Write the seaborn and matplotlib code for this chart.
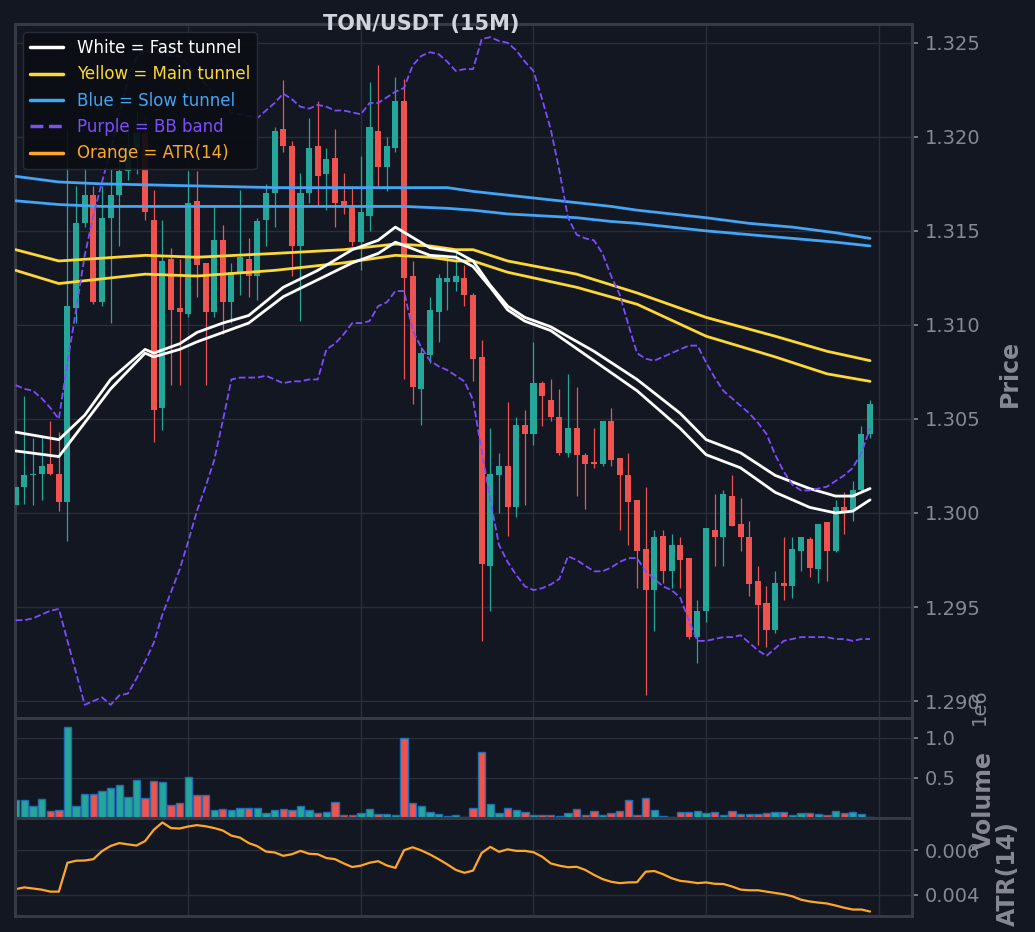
import numpy as np
import seaborn as sns
import matplotlib.pyplot as plt
from matplotlib.lines import Line2D
from matplotlib.ticker import FormatStrFormatter, FuncFormatter

# TON/USDT 15m candles
open_ = [1.3004, 1.3014, 1.3020, 1.3021, 1.3026, 1.3021, 1.3006, 1.3109, 1.3154, 1.3169,
         1.3112, 1.3157, 1.3169, 1.3182, 1.3193, 1.3202, 1.3156, 1.3056, 1.3135, 1.3109,
         1.3106, 1.3166, 1.3133, 1.3107, 1.3145, 1.3112, 1.3128, 1.3135, 1.3126, 1.3156,
         1.3170, 1.3204, 1.3195, 1.3142, 1.3170, 1.3195, 1.3180, 1.3189, 1.3166, 1.3164,
         1.3144, 1.3158, 1.3203, 1.3184, 1.3194, 1.3219, 1.3126, 1.3066, 1.3084, 1.3107,
         1.3123, 1.3123, 1.3125, 1.3116, 1.3083, 1.2972, 1.3020, 1.3025, 1.3003, 1.3047,
         1.3042, 1.3069, 1.3060, 1.3051, 1.3032, 1.3045, 1.3031, 1.3027, 1.3026, 1.3049,
         1.3029, 1.3020, 1.3007, 1.2981, 1.2959, 1.2988, 1.2969, 1.2983, 1.2976, 1.2934,
         1.2948, 1.2991, 1.2987, 1.3009, 1.2994, 1.2987, 1.2964, 1.2952, 1.2938, 1.2963,
         1.2961, 1.2980, 1.2986, 1.2970, 1.2995, 1.2980, 1.3003, 1.3001, 1.3012, 1.3042]
high = [1.3015, 1.3062, 1.3040, 1.3041, 1.3049, 1.3043, 1.3204, 1.3174, 1.3183, 1.3174,
        1.3174, 1.3183, 1.3193, 1.3206, 1.3214, 1.3210, 1.3172, 1.3156, 1.3141, 1.3135,
        1.3182, 1.3182, 1.3133, 1.3164, 1.3153, 1.3133, 1.3172, 1.3146, 1.3157, 1.3175,
        1.3205, 1.3230, 1.3198, 1.3181, 1.3210, 1.3219, 1.3194, 1.3204, 1.3181, 1.3174,
        1.3190, 1.3229, 1.3238, 1.3200, 1.3232, 1.3231, 1.3134, 1.3088, 1.3115, 1.3127,
        1.3136, 1.3139, 1.3132, 1.3117, 1.3092, 1.3045, 1.3032, 1.3059, 1.3051, 1.3055,
        1.3091, 1.3070, 1.3071, 1.3066, 1.3074, 1.3067, 1.3032, 1.3045, 1.3049, 1.3056,
        1.3029, 1.3032, 1.3007, 1.3014, 1.2991, 1.2991, 1.2989, 1.2987, 1.2976, 1.2954,
        1.2992, 1.3010, 1.3012, 1.3020, 1.3008, 1.2996, 1.2972, 1.2961, 1.2969, 1.2987,
        1.2987, 1.2987, 1.2987, 1.2994, 1.2995, 1.3007, 1.3011, 1.3017, 1.3046, 1.3060]
low = [1.3003, 1.3005, 1.3004, 1.3007, 1.3020, 1.3001, 1.2985, 1.3101, 1.3152, 1.3111,
       1.3110, 1.3101, 1.3142, 1.3177, 1.3180, 1.3156, 1.3038, 1.3044, 1.3068, 1.3068,
       1.3104, 1.3115, 1.3068, 1.3104, 1.3095, 1.3101, 1.3116, 1.3115, 1.3113, 1.3142,
       1.3152, 1.3192, 1.3126, 1.3102, 1.3165, 1.3163, 1.3161, 1.3152, 1.3159, 1.3142,
       1.3129, 1.3150, 1.3174, 1.3171, 1.3192, 1.3071, 1.3058, 1.3047, 1.3080, 1.3091,
       1.3108, 1.3118, 1.3110, 1.3070, 1.2932, 1.2948, 1.3000, 1.2988, 1.2998, 1.3004,
       1.3036, 1.3046, 1.3049, 1.3031, 1.3030, 1.3009, 1.3002, 1.3024, 1.3025, 1.3025,
       1.2991, 1.2983, 1.2960, 1.2903, 1.2937, 1.2963, 1.2960, 1.2960, 1.2933, 1.2920,
       1.2942, 1.2972, 1.2972, 1.2993, 1.2980, 1.2956, 1.2930, 1.2929, 1.2936, 1.2954,
       1.2955, 1.2969, 1.2966, 1.2963, 1.2964, 1.2979, 1.2989, 1.2996, 1.3011, 1.3040]
close = [1.3014, 1.3020, 1.3021, 1.3025, 1.3021, 1.3006, 1.3110, 1.3154, 1.3169, 1.3112,
         1.3157, 1.3169, 1.3182, 1.3193, 1.3202, 1.3160, 1.3055, 1.3134, 1.3108, 1.3107,
         1.3165, 1.3132, 1.3107, 1.3145, 1.3112, 1.3128, 1.3136, 1.3126, 1.3155, 1.3170,
         1.3203, 1.3195, 1.3142, 1.3170, 1.3194, 1.3179, 1.3188, 1.3165, 1.3164, 1.3144,
         1.3160, 1.3205, 1.3184, 1.3195, 1.3219, 1.3125, 1.3067, 1.3085, 1.3108, 1.3125,
         1.3125, 1.3126, 1.3116, 1.3082, 1.2973, 1.3021, 1.3025, 1.3003, 1.3047, 1.3042,
         1.3069, 1.3062, 1.3051, 1.3032, 1.3045, 1.3031, 1.3026, 1.3026, 1.3049, 1.3028,
         1.3020, 1.3006, 1.2980, 1.2959, 1.2987, 1.2969, 1.2983, 1.2975, 1.2934, 1.2948,
         1.2992, 1.2987, 1.3010, 1.2993, 1.2987, 1.2962, 1.2951, 1.2938, 1.2963, 1.2961,
         1.2981, 1.2987, 1.2971, 1.2994, 1.2980, 1.3003, 1.3001, 1.3012, 1.3042, 1.3058]
volume = [220000, 220000, 145000, 243000, 85000, 102000, 1136000, 145000, 306000, 302000,
          336000, 370000, 409000, 260000, 477000, 255000, 460000, 447000, 166000, 191000,
          511000, 289000, 289000, 106000, 115000, 102000, 128000, 128000, 128000, 64000,
          106000, 115000, 102000, 145000, 106000, 60000, 81000, 204000, 34000, 34000,
          64000, 115000, 47000, 47000, 38000, 1004000, 187000, 153000, 77000, 51000,
          26000, 38000, 13000, 128000, 830000, 179000, 64000, 128000, 94000, 72000,
          42000, 42000, 42000, 25000, 63000, 114000, 34000, 84000, 42000, 59000,
          84000, 219000, 42000, 253000, 101000, 30000, 17000, 72000, 72000, 89000,
          59000, 72000, 34000, 84000, 51000, 51000, 46000, 59000, 76000, 76000,
          42000, 59000, 59000, 51000, 34000, 89000, 63000, 76000, 51000, 13000]
atr14 = [0.00426, 0.00434, 0.00429, 0.00424, 0.00415, 0.00415, 0.00544, 0.00553, 0.00554, 0.00560,
         0.00596, 0.00619, 0.00632, 0.00626, 0.00621, 0.00641, 0.00691, 0.00724, 0.00699, 0.00697,
         0.00706, 0.00712, 0.00707, 0.00699, 0.00688, 0.00665, 0.00656, 0.00632, 0.00618, 0.00594,
         0.00590, 0.00575, 0.00582, 0.00597, 0.00584, 0.00582, 0.00565, 0.00560, 0.00541, 0.00525,
         0.00531, 0.00544, 0.00551, 0.00532, 0.00521, 0.00600, 0.00613, 0.00599, 0.00581, 0.00560,
         0.00537, 0.00512, 0.00499, 0.00509, 0.00588, 0.00615, 0.00593, 0.00604, 0.00597, 0.00597,
         0.00591, 0.00571, 0.00541, 0.00531, 0.00524, 0.00526, 0.00512, 0.00490, 0.00471, 0.00459,
         0.00453, 0.00456, 0.00457, 0.00504, 0.00507, 0.00493, 0.00475, 0.00463, 0.00459, 0.00453,
         0.00456, 0.00450, 0.00449, 0.00438, 0.00424, 0.00421, 0.00421, 0.00415, 0.00409, 0.00403,
         0.00394, 0.00379, 0.00371, 0.00366, 0.00362, 0.00353, 0.00343, 0.00335, 0.00335, 0.00326]
bb_upper = [1.3068, 1.3066, 1.3065, 1.3061, 1.3056, 1.3050, 1.3080, 1.3108, 1.3137, 1.3158,
            1.3176, 1.3193, 1.3212, 1.3230, 1.3242, 1.3246, 1.3245, 1.3244, 1.3243, 1.3243,
            1.3238, 1.3233, 1.3228, 1.3222, 1.3217, 1.3213, 1.3212, 1.3211, 1.3210, 1.3214,
            1.3218, 1.3223, 1.3220, 1.3216, 1.3215, 1.3217, 1.3216, 1.3214, 1.3214, 1.3213,
            1.3212, 1.3218, 1.3218, 1.3221, 1.3224, 1.3226, 1.3238, 1.3243, 1.3245, 1.3244,
            1.3240, 1.3235, 1.3236, 1.3236, 1.3252, 1.3253, 1.3251, 1.3250, 1.3246, 1.3240,
            1.3235, 1.3220, 1.3204, 1.3182, 1.3157, 1.3148, 1.3146, 1.3145, 1.3138, 1.3126,
            1.3116, 1.3100, 1.3085, 1.3082, 1.3081, 1.3083, 1.3085, 1.3087, 1.3089, 1.3089,
            1.3080, 1.3072, 1.3065, 1.3061, 1.3057, 1.3053, 1.3048, 1.3042, 1.3031, 1.3022,
            1.3015, 1.3012, 1.3012, 1.3013, 1.3014, 1.3017, 1.3020, 1.3024, 1.3032, 1.3045]
bb_lower = [1.2943, 1.2943, 1.2944, 1.2946, 1.2948, 1.2949, 1.2932, 1.2915, 1.2898, 1.2900,
            1.2902, 1.2898, 1.2903, 1.2904, 1.2912, 1.2921, 1.2931, 1.2946, 1.2958, 1.2970,
            1.2985, 1.3001, 1.3014, 1.3028, 1.3049, 1.3071, 1.3072, 1.3072, 1.3072, 1.3073,
            1.3071, 1.3069, 1.3070, 1.3070, 1.3071, 1.3071, 1.3087, 1.3090, 1.3095, 1.3101,
            1.3101, 1.3102, 1.3110, 1.3112, 1.3118, 1.3118, 1.3097, 1.3088, 1.3081, 1.3078,
            1.3076, 1.3073, 1.3070, 1.3060, 1.3033, 1.3007, 1.2983, 1.2974, 1.2967, 1.2961,
            1.2959, 1.2960, 1.2962, 1.2965, 1.2977, 1.2975, 1.2972, 1.2969, 1.2969, 1.2971,
            1.2974, 1.2976, 1.2976, 1.2969, 1.2965, 1.2961, 1.2959, 1.2955, 1.2943, 1.2932,
            1.2932, 1.2933, 1.2934, 1.2934, 1.2935, 1.2931, 1.2927, 1.2924, 1.2928, 1.2932,
            1.2933, 1.2934, 1.2934, 1.2934, 1.2934, 1.2933, 1.2933, 1.2932, 1.2933, 1.2933]

# tunnels, read at the bars where the lines bend
fast_idx = [0, 5, 8, 11, 15, 16, 19, 21, 24, 27, 31, 35, 39, 42, 44, 48,
            51, 53, 55, 57, 59, 62, 67, 72, 77, 80, 84, 88, 92, 95, 97, 99]
fast_upper = [1.3043, 1.3039, 1.3052, 1.3071, 1.3087, 1.3085, 1.3090, 1.3096, 1.3101, 1.3105,
              1.3120, 1.3129, 1.3140, 1.3145, 1.3152, 1.3141, 1.3139, 1.3134, 1.3121, 1.3110,
              1.3104, 1.3099, 1.3086, 1.3071, 1.3053, 1.3039, 1.3032, 1.3020, 1.3013, 1.3009,
              1.3009, 1.3013]
fast_lower = [1.3033, 1.3030, 1.3048, 1.3066, 1.3085, 1.3083, 1.3087, 1.3091, 1.3096, 1.3101,
              1.3115, 1.3124, 1.3133, 1.3138, 1.3144, 1.3137, 1.3136, 1.3131, 1.3120, 1.3108,
              1.3102, 1.3097, 1.3081, 1.3065, 1.3045, 1.3031, 1.3024, 1.3011, 1.3003, 1.3000,
              1.3001, 1.3007]
main_idx = [0, 5, 15, 21, 30, 38, 44, 48, 51, 53, 57, 65, 72, 80, 88, 94, 99]
main_upper = [1.3140, 1.3134, 1.3137, 1.3136, 1.3138, 1.3140, 1.3143, 1.3142, 1.3140, 1.3140,
              1.3134, 1.3127, 1.3117, 1.3104, 1.3094, 1.3086, 1.3081]
main_lower = [1.3129, 1.3122, 1.3127, 1.3126, 1.3129, 1.3133, 1.3137, 1.3136, 1.3134, 1.3134,
              1.3128, 1.3120, 1.3111, 1.3094, 1.3083, 1.3074, 1.3070]
slow_idx = [0, 5, 10, 20, 30, 40, 45, 50, 53, 57, 61, 65, 69, 72, 80, 85, 90, 95, 99]
slow_upper = [1.3179, 1.3176, 1.3175, 1.3174, 1.3173, 1.3173, 1.3173, 1.3173, 1.3171, 1.3169,
              1.3167, 1.3165, 1.3163, 1.3161, 1.3157, 1.3154, 1.3152, 1.3149, 1.3146]
slow_lower = [1.3166, 1.3164, 1.3163, 1.3163, 1.3163, 1.3163, 1.3163, 1.3162, 1.3161, 1.3159,
              1.3158, 1.3157, 1.3155, 1.3154, 1.3150, 1.3148, 1.3146, 1.3144, 1.3142]

BG = '#131722'
GRID = '#2a2e39'
SPINE = '#363a45'
TXT = '#868993'
UP = '#26a69a'
DOWN = '#ef5350'
WHITE = '#ffffff'
YELLOW = '#fdd835'
BLUE = '#42a5f5'
PURPLE = '#7c4dff'
ORANGE = '#ffa726'

sns.set_theme(style='dark', rc={
    'figure.facecolor': BG, 'axes.facecolor': BG, 'axes.edgecolor': SPINE,
    'axes.grid': True, 'grid.color': GRID, 'grid.linewidth': 1.0,
    'xtick.color': TXT, 'ytick.color': TXT, 'axes.labelcolor': TXT, 'text.color': TXT,
})
plt.rcParams['font.family'] = ['DejaVu Sans']

idx = np.arange(len(close))
o = np.array(open_)
c = np.array(close)
cols = np.where(c >= o, UP, DOWN)

fig = plt.figure(figsize=(10.35, 9.32), dpi=100)
gs = fig.add_gridspec(3, 1, height_ratios=[694, 100, 98], hspace=0,
                      left=15 / 1035, right=912 / 1035, top=1 - 24 / 932, bottom=1 - 916 / 932)
ax = fig.add_subplot(gs[0])
axv = fig.add_subplot(gs[1], sharex=ax)
axa = fig.add_subplot(gs[2], sharex=ax)

# candles
ax.vlines(idx, low, high, colors=cols, linewidth=0.9, zorder=2)
ax.bar(idx, np.maximum(np.abs(c - o), 0.00005), bottom=np.minimum(o, c),
       width=0.7, color=cols, linewidth=0, zorder=3)

# tunnels + bollinger
for xs, ys, colr in [(slow_idx, slow_upper, BLUE), (slow_idx, slow_lower, BLUE),
                     (main_idx, main_upper, YELLOW), (main_idx, main_lower, YELLOW),
                     (fast_idx, fast_upper, WHITE), (fast_idx, fast_lower, WHITE)]:
    sns.lineplot(x=xs, y=ys, ax=ax, color=colr, linewidth=2, zorder=4)
sns.lineplot(x=idx, y=bb_upper, ax=ax, color=PURPLE, linewidth=1.3, linestyle='--', zorder=4)
sns.lineplot(x=idx, y=bb_lower, ax=ax, color=PURPLE, linewidth=1.3, linestyle='--', zorder=4)

# volume + atr
axv.bar(idx, volume, width=0.85, color=cols, edgecolor='#1f6fb2', linewidth=1)
sns.lineplot(x=idx, y=atr14, ax=axa, color=ORANGE, linewidth=1.6)

ax.set_xlim(-0.08, 103.86)
ax.set_ylim(1.2891, 1.3260)
ax.set_yticks(np.arange(1.290, 1.3251, 0.005))
ax.yaxis.set_major_formatter(FormatStrFormatter('%.3f'))
axv.set_ylim(0, max(volume) * 1.1)
axv.set_yticks([500000, 1000000])
axv.yaxis.set_major_formatter(FuncFormatter(lambda v, p: f'{v / 1e6:.1f}'))
axa.set_yticks([0.004, 0.006])
axa.yaxis.set_major_formatter(FormatStrFormatter('%.3f'))

for a in (ax, axv, axa):
    a.set_axisbelow(True)
    a.set_xticks([20, 40, 60, 80, 100])
    a.tick_params(axis='x', bottom=False, labelbottom=False)
    a.yaxis.tick_right()
    a.yaxis.set_label_position('right')
    a.tick_params(axis='y', labelsize=14, colors=TXT, length=4, width=1.2, pad=5)
    a.set_xlabel('')
    for s in a.spines.values():
        s.set_color(SPINE)
        s.set_linewidth(2.2)

ax.set_ylabel('Price', fontsize=17, fontweight='bold', color=TXT)
axv.set_ylabel('Volume', fontsize=17, fontweight='bold', color=TXT)
axa.set_ylabel('ATR(14)', fontsize=17, fontweight='bold', color=TXT)
ax.yaxis.set_label_coords(1.096, 0.496)
axv.yaxis.set_label_coords(1.067, 0.18)
axa.yaxis.set_label_coords(1.094, 0.43)
# volume scale marker, rotated like in the original
fig.text(979 / 1035, 1 - 707 / 932, '1e6', rotation=90, ha='center', va='center',
         fontsize=14, color=TXT)

fig.text(421 / 1035, 1 - 24 / 932, 'TON/USDT (15M)', ha='center', va='center',
         fontsize=15, fontweight='bold', color='#d1d4dc')

handles = [Line2D([], [], color=WHITE, lw=2.5, label='White = Fast tunnel'),
           Line2D([], [], color=YELLOW, lw=2.5, label='Yellow = Main tunnel'),
           Line2D([], [], color=BLUE, lw=2.5, label='Blue = Slow tunnel'),
           Line2D([], [], color=PURPLE, lw=2.5, ls='--', label='Purple = BB band'),
           Line2D([], [], color=ORANGE, lw=2.5, label='Orange = ATR(14)')]
ax.legend(handles=handles, loc='upper left', fontsize=12, facecolor='#0b0e13',
          edgecolor=GRID, framealpha=0.92,
          labelcolor=[WHITE, YELLOW, BLUE, PURPLE, ORANGE])

fig.savefig('out.png', dpi=100, facecolor=BG)
